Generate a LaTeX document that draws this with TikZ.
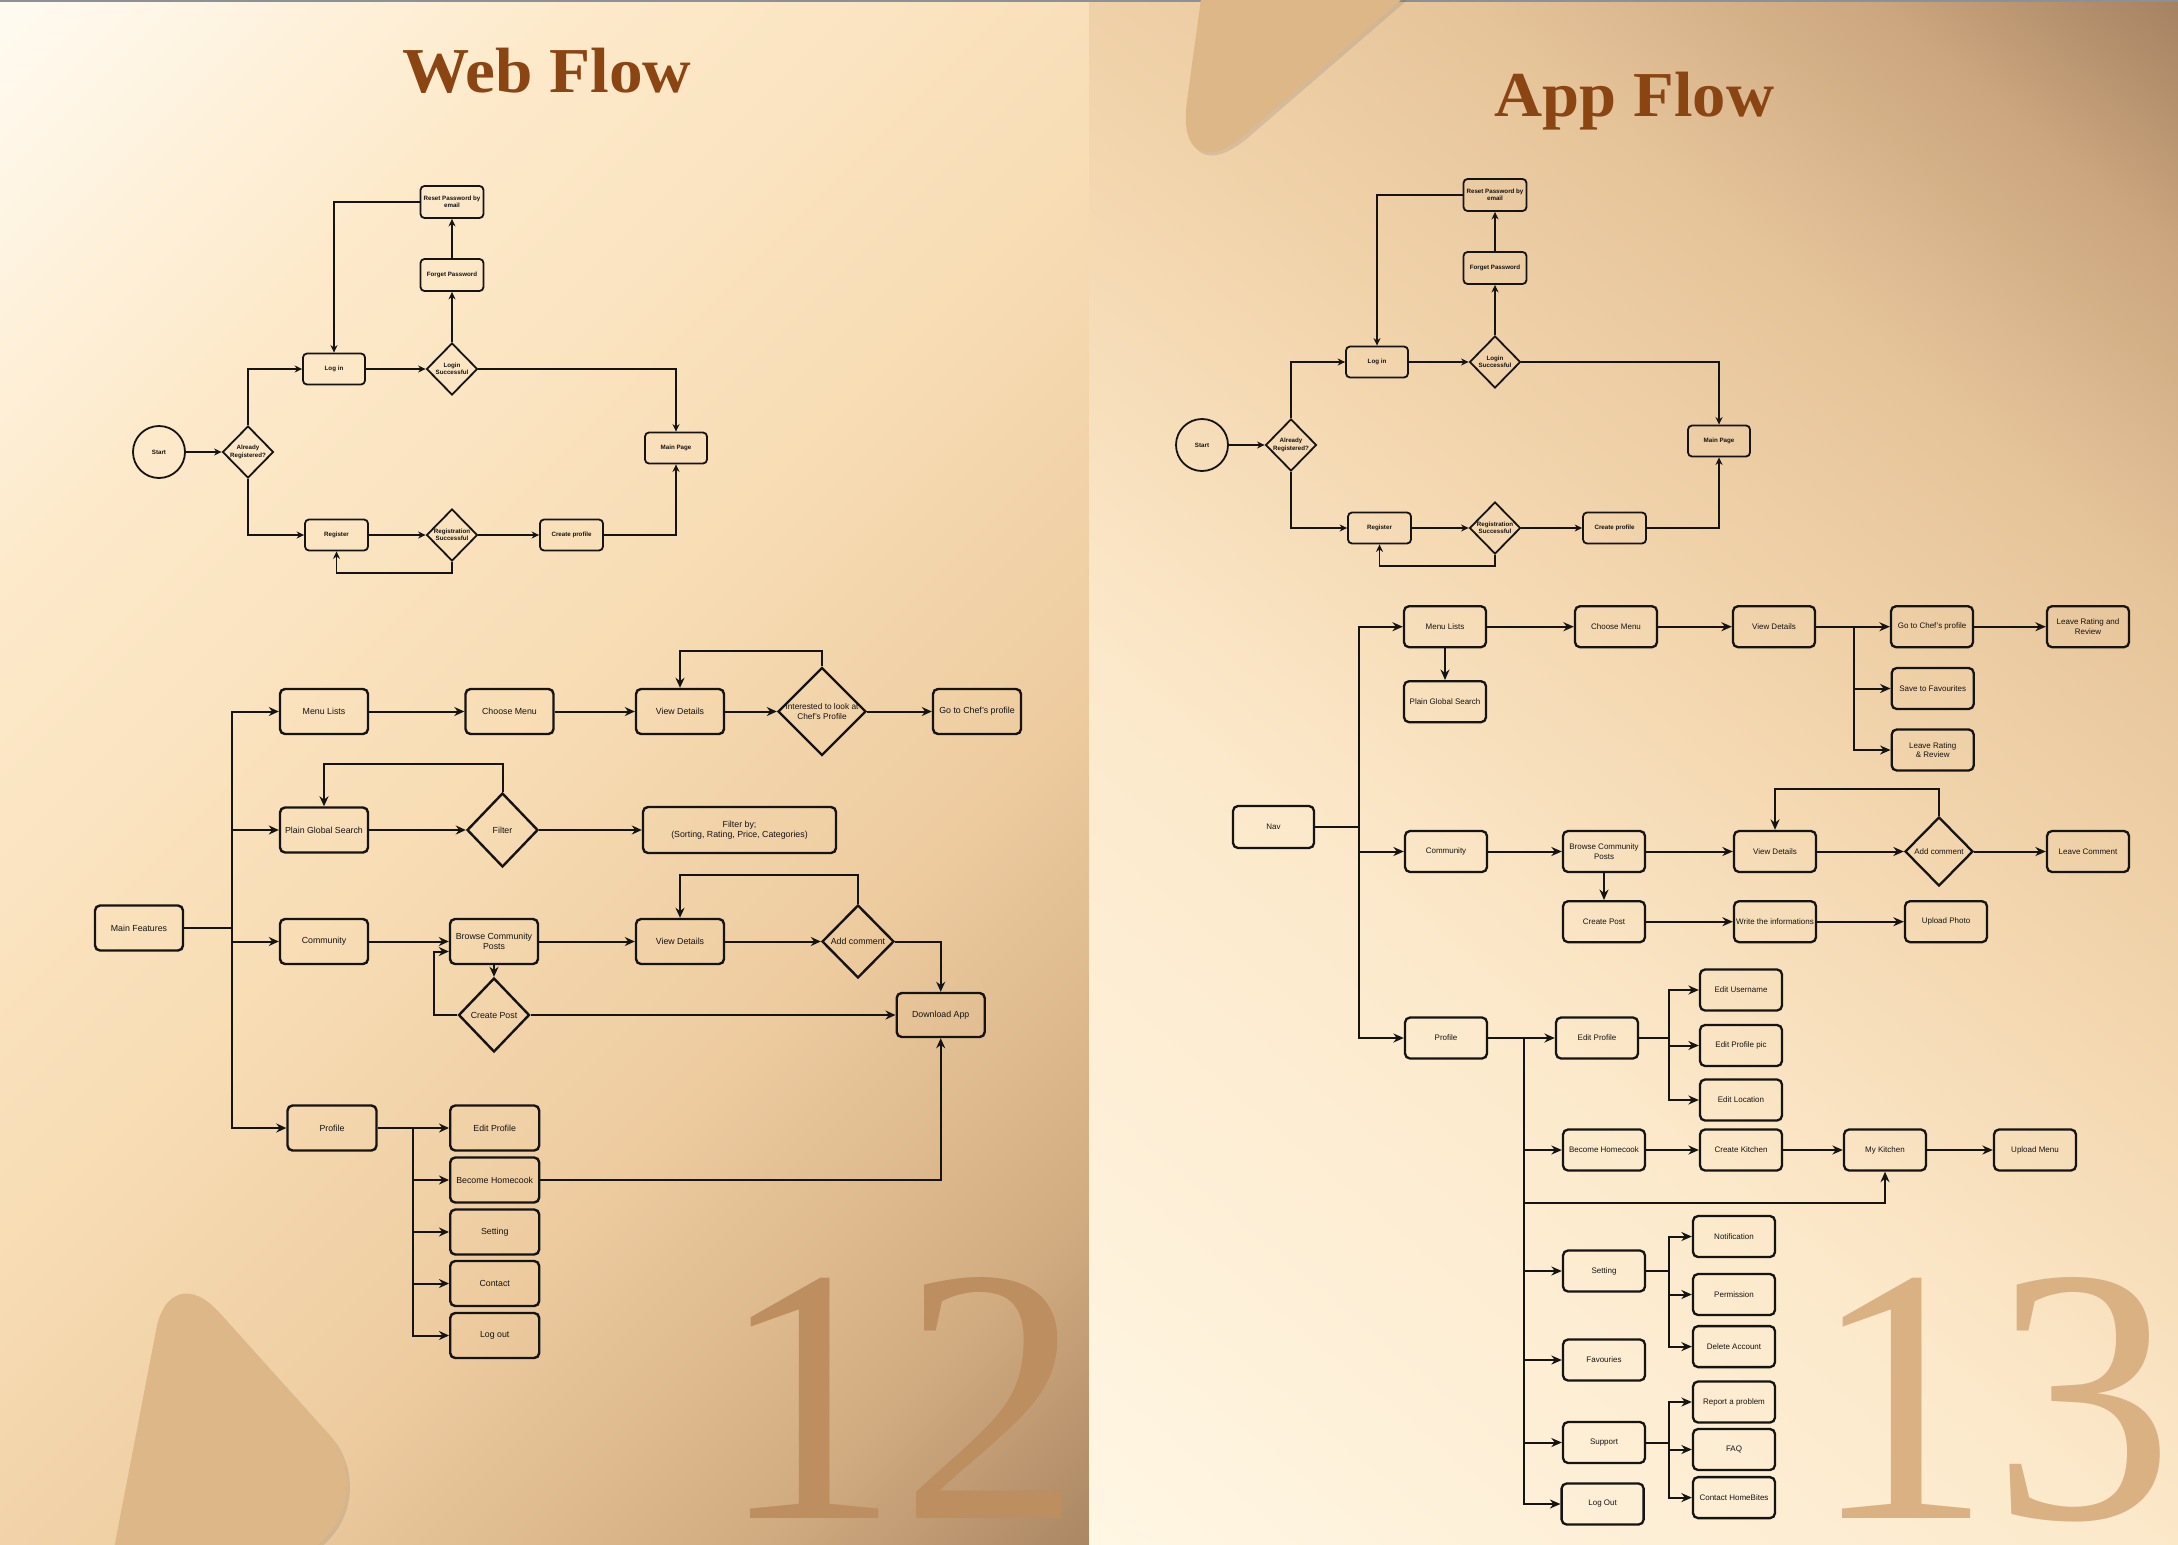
\documentclass[tikz,border=0pt]{standalone}
\usepackage{fontspec}
\setmainfont{Liberation Sans}
\newfontfamily\headserif{Liberation Serif}
\usetikzlibrary{arrows.meta,shapes.geometric,shadows}

% palette
\definecolor{ink}{HTML}{141414}
\definecolor{titlebrown}{HTML}{8B4513}
\definecolor{numA}{HTML}{BC8E60}
\definecolor{numB}{HTML}{D9B182}
\definecolor{deco}{HTML}{DDB787}
\definecolor{topline}{HTML}{8C9099}
\definecolor{lp0}{HTML}{FFFAF0}
\definecolor{lp1}{HTML}{FDEACB}
\definecolor{lp2}{HTML}{F8DDB5}
\definecolor{lp3}{HTML}{EDCB9F}
\definecolor{lp4}{HTML}{D3AD82}
\definecolor{lp5}{HTML}{A98562}
\definecolor{rp0}{HTML}{FFF6E3}
\definecolor{rp1}{HTML}{FCE9CB}
\definecolor{rp2}{HTML}{F3D6AE}
\definecolor{rp3}{HTML}{E6C49A}
\definecolor{rp4}{HTML}{CBA67E}
\definecolor{rp5}{HTML}{9C795B}

% panel gradients (stops spread over the diagonal of the panel)
\pgfdeclarehorizontalshading{leftpanel}{100bp}{color(0bp)=(lp0); color(15bp)=(lp0);
  color(30bp)=(lp1); color(48bp)=(lp2); color(63bp)=(lp3); color(76bp)=(lp4);
  color(86bp)=(lp5); color(100bp)=(lp5)}
\pgfdeclarehorizontalshading{rightpanel}{100bp}{color(0bp)=(rp0); color(15bp)=(rp0);
  color(40bp)=(rp1); color(55bp)=(rp2); color(68bp)=(rp3); color(78bp)=(rp4);
  color(87bp)=(rp5); color(100bp)=(rp5)}

\newcommand\topfnt{\fontsize{6.2}{7.2}\selectfont\bfseries}
\newcommand\webfnt{\fontsize{8.8}{10.4}\selectfont}
\newcommand\appfnt{\fontsize{8}{9.6}\selectfont}

\tikzset{
  tbox/.style={draw=ink, line width=1.8pt, rounded corners=4pt, minimum width=62pt,
    minimum height=31pt, inner sep=1pt, align=center, font=\topfnt, text=ink},
  tcirc/.style={draw=ink, circle, line width=1.8pt, minimum size=52pt, inner sep=0pt,
    font=\topfnt, text=ink},
  tdia/.style={draw=ink, diamond, line width=1.8pt, minimum width=51pt,
    minimum height=52pt, inner sep=0pt},
  tdlab/.style={font=\topfnt, align=center, inner sep=0pt, text=ink},
  tarr/.style={draw=ink, line width=1.4pt, -{Stealth[length=7.5pt,width=7pt]}},
  wbox/.style={draw=ink, line width=2.4pt, rounded corners=5pt, minimum width=88pt,
    minimum height=45pt, inner sep=1pt, align=center, font=\webfnt, text=ink},
  wdia/.style={draw=ink, diamond, line width=2.4pt, inner sep=0pt},
  wdlab/.style={font=\webfnt, align=center, inner sep=0pt, text=ink},
  warr/.style={draw=ink, line width=2pt, -{Stealth[length=10pt,width=9pt]}},
  wln/.style={draw=ink, line width=2pt},
  abox/.style={draw=ink, line width=2.3pt, rounded corners=5pt, minimum width=82pt,
    minimum height=41pt, inner sep=0.5pt, align=center, font=\appfnt, text=ink},
  adia/.style={draw=ink, diamond, line width=2.3pt, inner sep=0pt},
  adlab/.style={font=\appfnt, align=center, inner sep=0pt, text=ink},
  aarr/.style={draw=ink, line width=2pt, -{Stealth[length=10.5pt,width=9pt]}},
  aln/.style={draw=ink, line width=2pt},
  title/.style={anchor=base, text=titlebrown, font=\headserif\bfseries\fontsize{64}{64}\selectfont},
  bignum/.style={anchor=base, inner sep=0pt, font=\headserif\fontsize{364}{364}\selectfont},
  decoshape/.style={fill=deco,
    drop shadow={shadow xshift=3pt, shadow yshift=-3pt, opacity=0.18, fill=black!60}}
}

% sign-in / registration flow, node names prefixed with #1
\newcommand\signflow[1]{%
  \node[tcirc] (#1-start) at (159,452) {Start};
  \node[tdia, label={[tdlab]center:Already\\Registered?}] (#1-areg) at (248,452) {};
  \node[tbox] (#1-login) at (334,369) {Log in};
  \node[tdia, label={[tdlab]center:Login\\Successful}] (#1-lsucc) at (452,369) {};
  \node[tbox, minimum width=63pt, minimum height=32pt] (#1-forget) at (452,275) {Forget Password};
  \node[tbox, minimum width=63pt, minimum height=32pt] (#1-reset) at (452,202) {Reset Password by\\email};
  \node[tbox] (#1-main) at (676,448) {Main Page};
  \node[tbox, minimum width=63pt] (#1-register) at (336.5,535) {Register};
  \node[tdia, label={[tdlab]center:Registration\\Successful}] (#1-rsucc) at (452,535) {};
  \node[tbox, minimum width=63pt] (#1-cprof) at (571.5,535) {Create profile};
  \draw[tarr] (#1-start) -- (#1-areg);
  \draw[tarr] (#1-areg.north) |- (#1-login.west);
  \draw[tarr] (#1-areg.south) |- (#1-register.west);
  \draw[tarr] (#1-login) -- (#1-lsucc);
  \draw[tarr] (#1-lsucc.north) -- (#1-forget.south);
  \draw[tarr] (#1-forget) -- (#1-reset);
  \draw[tarr] (#1-reset.west) -| (#1-login.north);
  \draw[tarr] (#1-lsucc.east) -| (#1-main.north);
  \draw[tarr] (#1-register) -- (#1-rsucc);
  \draw[tarr] (#1-rsucc) -- (#1-cprof);
  \draw[tarr] (#1-cprof.east) -| (#1-main.south);
  \draw[tarr] (#1-rsucc.south) -- ++(0,11) -| (#1-register.south);
}

\begin{document}
\begin{tikzpicture}[x=1pt,y=-1pt]
\useasboundingbox (0,0) rectangle (2178,1544);

% backgrounds
\shade[shading=leftpanel, shading angle=-45] (0,0) rectangle (1089,1544);
\shade[shading=rightpanel, shading angle=50] (1089,0) rectangle (2178,1544);
\fill[topline] (0,0) rectangle (2178,2);

% decorative rounded triangles
\path[decoshape, rounded corners=72pt] (170,1258) -- (376,1487) -- (66.7,1794) -- cycle;
\path[decoshape, rounded corners=95pt] (1174,196) -- (1242,-300) -- (1748,-300) -- cycle;

% page numbers
\node[bignum, text=numA] (n-web) at (900,1518) {12};
\node[bignum, text=numB] (n-app) at (1992,1518) {13};

% headings
\node[title] (t-web) at (546.7,92.7) {\scalebox{1.05}[1]{Web Flow}};
\node[title] (t-app) at (1634.5,116.7) {\scalebox{1.04}[1]{App Flow}};

% ---------------- web: sign-in ----------------
\signflow{w}

% ---------------- web: main features ----------------
\node[wbox] (w-mf) at (139,928) {Main Features};
\coordinate (w-trunk) at (231.7,928);
\node[wbox] (w-menu) at (324,711.5) {Menu Lists};
\node[wbox] (w-choose) at (509.5,711.5) {Choose Menu};
\node[wbox] (w-vd1) at (680,711.5) {View Details};
\node[wdia, minimum width=88pt, minimum height=88pt,
  label={[wdlab, font=\fontsize{8.3}{10}\selectfont]center:Interested to look at\\Chef's Profile}] (w-int) at (822,711.5) {};
\node[wbox] (w-chef) at (977,711.5) {Go to Chef's profile};

\node[wbox] (w-pgs) at (324,830) {Plain Global Search};
\node[wdia, minimum width=71pt, minimum height=74pt, label={[wdlab]center:Filter}] (w-filter) at (502.5,830) {};
\node[wbox, minimum width=193pt, minimum height=46pt] (w-fby) at (739.5,830) {Filter by;\\(Sorting, Rating, Price, Categories)};

\node[wbox] (w-comm) at (324,941.5) {Community};
\node[wbox] (w-browse) at (494,941.5) {Browse Community\\Posts};
\node[wbox] (w-vd2) at (680,941.5) {View Details};
\node[wdia, minimum width=72pt, minimum height=73pt, label={[wdlab]center:Add comment}] (w-add) at (858,941.5) {};
\node[wdia, minimum width=71pt, minimum height=74pt, label={[wdlab]center:Create Post}] (w-cpost) at (494,1015) {};
\node[wbox, minimum height=44pt] (w-dl) at (940.7,1015) {Download App};

\node[wbox, minimum width=89pt] (w-prof) at (332,1128) {Profile};
\coordinate (w-ptrunk) at (412.6,1128);
\node[wbox, minimum width=89pt] (w-eprof) at (494.7,1128) {Edit Profile};
\node[wbox, minimum width=89pt] (w-home) at (494.7,1180) {Become Homecook};
\node[wbox, minimum width=89pt] (w-set) at (494.7,1232) {Setting};
\node[wbox, minimum width=89pt] (w-contact) at (494.7,1283.5) {Contact};
\node[wbox, minimum width=89pt] (w-logout) at (494.7,1335.5) {Log out};

\draw[wln] (w-mf) -- (w-trunk);
\draw[warr] (w-trunk) |- (w-menu.west);
\draw[warr] (w-trunk) |- (w-pgs.west);
\draw[warr] (w-trunk) |- (w-comm.west);
\draw[warr] (w-trunk) |- (w-prof.west);
\draw[warr] (w-menu) -- (w-choose);
\draw[warr] (w-choose) -- (w-vd1);
\draw[warr] (w-vd1) -- (w-int);
\draw[warr] (w-int) -- (w-chef);
\draw[warr] (w-int.north) -- ++(0,-15) -| (w-vd1.north);
\draw[warr] (w-pgs) -- (w-filter);
\draw[warr] (w-filter) -- (w-fby);
\draw[warr] (w-filter.north) -- ++(0,-28) -| (w-pgs.north);
\draw[warr] (w-comm) -- (w-browse);
\draw[warr] (w-browse) -- (w-vd2);
\draw[warr] (w-vd2) -- (w-add);
\draw[warr] (w-add.north) -- ++(0,-29) -| (w-vd2.north);
\draw[warr] (w-add.east) -| (w-dl.north);
\draw[warr] (w-browse) -- (w-cpost);
\draw[warr] (w-cpost.west) -- ++(-23,0) |- ([yshift=-10pt]w-browse.west);
\draw[warr] (w-cpost) -- (w-dl);
\draw[warr] (w-prof) -- (w-eprof);
\draw[warr] (w-ptrunk) |- (w-home.west);
\draw[warr] (w-ptrunk) |- (w-set.west);
\draw[warr] (w-ptrunk) |- (w-contact.west);
\draw[warr] (w-ptrunk) |- (w-logout.west);
\draw[warr] (w-home.east) -| (w-dl.south);

% ---------------- app: sign-in ----------------
\begin{scope}[shift={(1043,-7)}]
\signflow{a}
\end{scope}

% ---------------- app: navigation ----------------
\node[abox, minimum width=81pt, minimum height=42pt] (a-nav) at (1273.5,827) {Nav};
\coordinate (a-trunk) at (1359.4,827);
\node[abox] (a-menu) at (1445,626.7) {Menu Lists};
\node[abox] (a-pgs) at (1445,701.7) {Plain Global Search};
\node[abox] (a-choose) at (1616,626.7) {Choose Menu};
\node[abox] (a-vd1) at (1774,626.7) {View Details};
\node[abox] (a-chef) at (1932,626.7) {Go to Chef's profile};
\node[abox] (a-lrr) at (2088,626.7) {Leave Rating and\\Review};
\coordinate (a-vb) at (1853.5,626.7);
\node[abox] (a-fav) at (1932.7,688.5) {Save to Favourites};
\node[abox] (a-lr) at (1932.7,750) {Leave Rating\\\& Review};

\node[abox] (a-comm) at (1446,851.5) {Community};
\node[abox] (a-browse) at (1604,851.5) {Browse Community\\Posts};
\node[abox] (a-vd2) at (1775,851.5) {View Details};
\node[adia, minimum width=68pt, minimum height=69pt, label={[adlab]center:Add comment}] (a-add) at (1939,851.5) {};
\node[abox] (a-lc) at (2088,851.5) {Leave Comment};
\node[abox] (a-cpost) at (1604,921.7) {Create Post};
\node[abox] (a-write) at (1775,921.7) {Write the informations};
\node[abox] (a-upload) at (1946,921.7) {Upload Photo};

\node[abox] (a-prof) at (1446,1038) {Profile};
\coordinate (a-ptrunk) at (1524.3,1038);
\node[abox] (a-eprof) at (1597,1038) {Edit Profile};
\coordinate (a-eb) at (1668.6,1038);
\node[abox] (a-euser) at (1741,990) {Edit Username};
\node[abox] (a-epic) at (1741,1045.5) {Edit Profile pic};
\node[abox] (a-eloc) at (1741,1100) {Edit Location};
\node[abox] (a-home) at (1604,1150) {Become Homecook};
\node[abox] (a-ckit) at (1741,1150) {Create Kitchen};
\node[abox] (a-mykit) at (1885,1150) {My Kitchen};
\node[abox] (a-upmenu) at (2035,1150) {Upload Menu};
\coordinate (a-kj) at (1524.3,1202.7);
\node[abox] (a-set) at (1604,1271) {Setting};
\coordinate (a-sb) at (1668.6,1271);
\node[abox] (a-notif) at (1734,1236.5) {Notification};
\node[abox] (a-perm) at (1734,1294.5) {Permission};
\node[abox] (a-del) at (1734,1346.6) {Delete Account};
\node[abox] (a-favs) at (1604,1360) {Favouries};
\node[abox] (a-sup) at (1604,1442.5) {Support};
\coordinate (a-supb) at (1668.6,1442.5);
\node[abox] (a-rep) at (1734,1402) {Report a problem};
\node[abox] (a-faq) at (1734,1449.5) {FAQ};
\node[abox] (a-chb) at (1734,1497.6) {Contact HomeBites};
\node[abox] (a-logout) at (1602.6,1504) {Log Out};

\draw[aln] (a-nav) -- (a-trunk);
\draw[aarr] (a-trunk) |- (a-menu.west);
\draw[aarr] (a-trunk) |- (a-comm.west);
\draw[aarr] (a-trunk) |- (a-prof.west);
\draw[aarr] (a-menu) -- (a-pgs);
\draw[aarr] (a-menu) -- (a-choose);
\draw[aarr] (a-choose) -- (a-vd1);
\draw[aarr] (a-vd1) -- (a-chef);
\draw[aarr] (a-chef) -- (a-lrr);
\draw[aarr] (a-vb) |- (a-fav.west);
\draw[aarr] (a-vb) |- (a-lr.west);
\draw[aarr] (a-comm) -- (a-browse);
\draw[aarr] (a-browse) -- (a-vd2);
\draw[aarr] (a-vd2) -- (a-add);
\draw[aarr] (a-add) -- (a-lc);
\draw[aarr] (a-add.north) -- ++(0,-26.5) -| (a-vd2.north);
\draw[aarr] (a-browse) -- (a-cpost);
\draw[aarr] (a-cpost) -- (a-write);
\draw[aarr] (a-write) -- (a-upload);
\draw[aarr] (a-prof) -- (a-eprof);
\draw[aln] (a-eprof) -- (a-eb);
\draw[aarr] (a-eb) |- (a-euser.west);
\draw[aarr] (a-eb) |- (a-epic.west);
\draw[aarr] (a-eb) |- (a-eloc.west);
\draw[aarr] (a-ptrunk) |- (a-home.west);
\draw[aarr] (a-ptrunk) |- (a-set.west);
\draw[aarr] (a-ptrunk) |- (a-favs.west);
\draw[aarr] (a-ptrunk) |- (a-sup.west);
\draw[aarr] (a-ptrunk) |- (a-logout.west);
\draw[aarr] (a-kj) -| (a-mykit.south);
\draw[aarr] (a-home) -- (a-ckit);
\draw[aarr] (a-ckit) -- (a-mykit);
\draw[aarr] (a-mykit) -- (a-upmenu);
\draw[aln] (a-set) -- (a-sb);
\draw[aarr] (a-sb) |- (a-notif.west);
\draw[aarr] (a-sb) |- (a-perm.west);
\draw[aarr] (a-sb) |- (a-del.west);
\draw[aln] (a-sup) -- (a-supb);
\draw[aarr] (a-supb) |- (a-rep.west);
\draw[aarr] (a-supb) |- (a-faq.west);
\draw[aarr] (a-supb) |- (a-chb.west);
\end{tikzpicture}
\end{document}
